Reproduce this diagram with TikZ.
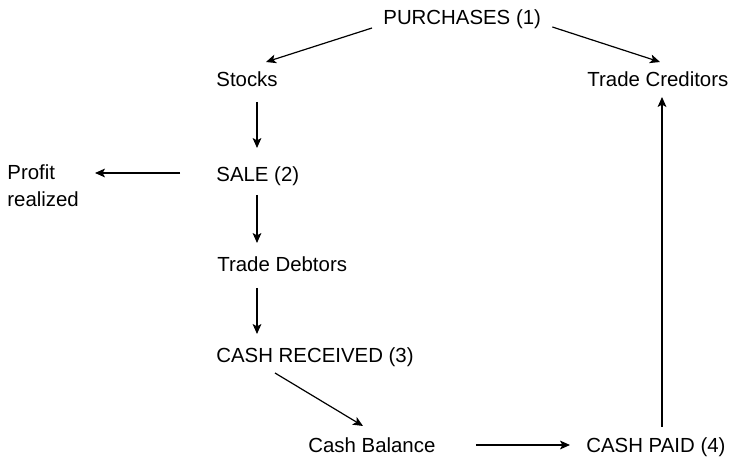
\documentclass[tikz,border=0pt]{standalone}
\usepackage{fontspec}
\setmainfont{Liberation Sans}
\usetikzlibrary{arrows.meta}
\tikzset{
  lbl/.style={inner sep=0pt, anchor=base west, font=\fontsize{10.2}{13.5}\selectfont},
  flow/.style={-{Stealth[length=5pt,width=4.4pt,inset=1.2pt]}, line width=0.6pt}
}
\begin{document}
\begin{tikzpicture}[x=0.5pt,y=-0.5pt]
    \useasboundingbox (0,0) rectangle (743,458);
    % the items, at their baselines
    \node[lbl] (pur) at (383,25) {PURCHASES (1)};
    \node[lbl] (stk) at (216,87) {Stocks};
    \node[lbl] (tcr) at (587,87) {Trade Creditors};
    \node[lbl] (sal) at (216,182) {SALE (2)};
    \node[lbl, align=left] (pro) at (7,207) {Profit\\realized};
    \node[lbl] (tdb) at (217,272) {Trade Debtors};
    \node[lbl] (crc) at (216,363) {CASH RECEIVED (3)};
    \node[lbl] (cbl) at (308,452) {Cash Balance};
    \node[lbl] (cpd) at (586,452) {CASH PAID (4)};
    % the arrows
    \draw[flow] ([shift={(-11,3)}]pur.base west) -- ([shift={(50,-25)}]stk.base west);
    \draw[flow] ([shift={(11,2)}]pur.base east) -- ([shift={(73,-25)}]tcr.base west);
    \draw[flow] ([shift={(41,15)}]stk.base west) -- ([shift={(41,-34)}]sal.base west);
    \draw[flow] ([shift={(-36,-9)}]sal.base west) -- ([shift={(88,-34)}]pro.base west);
    \draw[flow] ([shift={(41,13)}]sal.base west) -- ([shift={(40,-29)}]tdb.base west);
    \draw[flow] ([shift={(40,16)}]tdb.base west) -- ([shift={(41,-29)}]crc.base west);
    \draw[flow] ([shift={(59,10)}]crc.base west) -- ([shift={(55,-26)}]cbl.base west);
    \draw[flow] ([shift={(40,-7)}]cbl.base east) -- ([shift={(-16,-7)}]cpd.base west);
    \draw[flow] ([shift={(76,-25)}]cpd.base west) -- ([shift={(75,10)}]tcr.base west);
\end{tikzpicture}
\end{document}
